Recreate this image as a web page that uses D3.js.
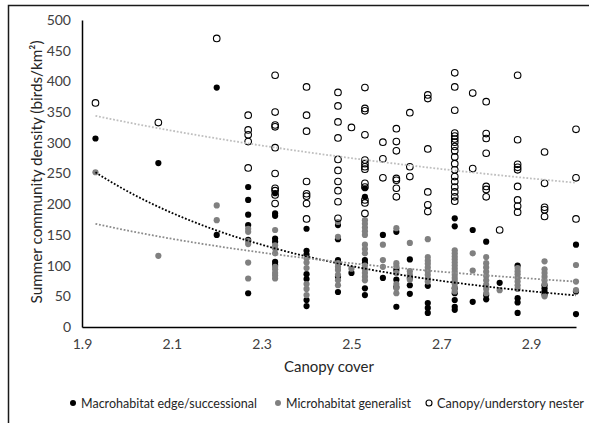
<!DOCTYPE html>
<html>
<head>
<meta charset="utf-8">
<script src="https://cdn.jsdelivr.net/npm/d3@7"></script>
<style>
  html, body { margin: 0; padding: 0; background: #fff; }
  svg { display: block; font-family: Lato, "Open Sans", sans-serif; }
</style>
</head>
<body>
<svg id="chart" width="589" height="423"></svg>
<script>
// Canopy cover levels (x) and summer densities (birds/km²) recorded at each level
const canopyLevels = [1.93, 2.07, 2.2, 2.27, 2.33, 2.4, 2.47, 2.5, 2.53, 2.57, 2.6, 2.63, 2.67, 2.73, 2.77, 2.8, 2.83, 2.87, 2.93, 3.0];

const macroEdge = [
  [307], [267], [390, 150], [228, 207, 183, 166, 142, 55],
  [218, 185, 181, 144, 139, 106, 101], [160, 124, 118, 86, 78, 44, 34],
  [166, 143, 109, 82, 57], [88], [226, 212, 109, 104, 63, 52], [150, 80],
  [155, 93, 77, 65, 33], [110, 80, 68, 54], [67, 39, 31, 23],
  [177, 164, 63, 55, 44, 33, 28], [158, 41], [139, 52, 45], [72],
  [100, 47, 40, 23], [68, 63, 58, 53], [134, 58, 21]
];

const microGeneralist = [
  [252], [116], [198, 174], [160, 155, 140, 135, 105, 79],
  [158, 133, 128, 120, 98, 94, 88, 84, 79], [112, 105, 96, 70, 62, 52],
  [171, 147, 104, 98, 93, 85, 76, 68], [95],
  [174, 168, 162, 156, 150, 134, 127, 120, 100, 94, 88, 82, 76], [134, 109, 98],
  [161, 104, 99, 88, 70, 63, 55], [137, 91, 85, 77],
  [143, 114, 108, 103, 97, 91, 85, 79, 74],
  [125, 120, 115, 110, 105, 100, 95, 90, 85, 80, 75, 70, 64, 58], [120, 92],
  [114, 104, 97, 90, 83, 76, 69, 62, 55], [60], [96, 91, 86, 80, 74, 68, 62],
  [107, 94, 88, 82, 76, 70, 50], [101, 74, 60]
];

const canopyNester = [
  [365], [333], [470], [345, 321, 313, 302, 259],
  [410, 350, 329, 326, 292, 250, 226, 222, 215, 201],
  [391, 345, 319, 237, 217, 213, 201, 176],
  [382, 360, 334, 308, 273, 255, 237, 222, 204, 177], [325],
  [390, 356, 352, 313, 272, 266, 261, 257, 234, 228, 207, 202, 185], [301, 274, 243],
  [323, 302, 287, 242, 239, 226, 212], [349, 261, 245],
  [378, 372, 290, 220, 199, 188],
  [414, 391, 353, 316, 311, 306, 301, 294, 287, 277, 266, 256, 245, 237, 228, 220, 212, 205],
  [381, 258], [367, 315, 307, 283, 229, 224, 212], [158],
  [410, 305, 265, 260, 256, 229, 207, 197, 187], [285, 234, 195, 191, 180],
  [322, 243, 176]
];

// Power trendlines y = a * x^b for each guild
const trendCoefA = [2687, 571, 607];
const trendCoefB = [-3.6, -1.86, -0.864];

const seriesNames = ["Macrohabitat edge/successional", "Microhabitat generalist", "Canopy/understory nester"];
const xTicks = [1.9, 2.1, 2.3, 2.5, 2.7, 2.9];
const yTicks = [0, 50, 100, 150, 200, 250, 300, 350, 400, 450, 500];

const svg = d3.select("#chart");

// chart frame
svg.append("rect")
  .attr("x", 8.5).attr("y", 5.5).attr("width", 700).attr("height", 600)
  .attr("fill", "none").attr("stroke", "#1a1a1a").attr("stroke-width", 1.5);

const x = d3.scaleLinear().domain([1.9, 3.0]).range([82, 576]);
const y = d3.scaleLinear().domain([0, 500]).range([327, 20]);

// axes
const yAxis = svg.append("g").attr("transform", "translate(82,0)")
  .call(d3.axisLeft(y).tickValues(yTicks).tickSize(0).tickSizeOuter(0).tickPadding(11));
const xAxis = svg.append("g").attr("transform", "translate(0,327)")
  .call(d3.axisBottom(x).tickValues(xTicks).tickFormat(d3.format(".1f")).tickSize(0).tickSizeOuter(0).tickPadding(12));
[yAxis, xAxis].forEach(g => {
  g.select(".domain").attr("stroke", "#000").attr("stroke-width", 1.5);
  g.selectAll("text").attr("font-size", 14).attr("fill", "#404040").attr("font-family", "Lato, sans-serif");
});

// axis titles
svg.append("text")
  .attr("transform", "translate(36,172) rotate(-90)")
  .attr("text-anchor", "middle").attr("dominant-baseline", "central")
  .attr("font-size", 14.5).attr("fill", "#262626")
  .attr("textLength", 263).attr("lengthAdjust", "spacingAndGlyphs")
  .text("Summer community density (birds/km²)");
svg.append("text")
  .attr("x", 329).attr("y", 372)
  .attr("text-anchor", "middle")
  .attr("font-size", 15).attr("fill", "#262626")
  .text("Canopy cover");

const flatten = groups => groups.flatMap((vals, i) => vals.map(v => ({ cx: canopyLevels[i], v })));

// markers
const plot = svg.append("g");
plot.selectAll("circle.macro").data(flatten(macroEdge)).join("circle")
  .attr("class", "macro")
  .attr("cx", d => x(d.cx)).attr("cy", d => y(d.v)).attr("r", 3.1)
  .attr("fill", "#000");
plot.selectAll("circle.micro").data(flatten(microGeneralist)).join("circle")
  .attr("class", "micro")
  .attr("cx", d => x(d.cx)).attr("cy", d => y(d.v)).attr("r", 3.1)
  .attr("fill", "#808080");
plot.selectAll("circle.canopy").data(flatten(canopyNester)).join("circle")
  .attr("class", "canopy")
  .attr("cx", d => x(d.cx)).attr("cy", d => y(d.v)).attr("r", 3.3)
  .attr("fill", "none").attr("stroke", "#000").attr("stroke-width", 1.1);

// trendlines over the observed canopy range
const trendColors = ["#000000", "#8c8c8c", "#bfbfbf"];
const xs = d3.range(0, 101).map(i => canopyLevels[0] + (canopyLevels[canopyLevels.length - 1] - canopyLevels[0]) * i / 100);
const line = d3.line().x(d => x(d[0])).y(d => y(d[1])).curve(d3.curveLinear);
trendCoefA.forEach((a, k) => {
  const pts = xs.map(xv => [xv, a * Math.pow(xv, trendCoefB[k])]);
  plot.append("path").attr("d", line(pts))
    .attr("fill", "none").attr("stroke", trendColors[k])
    .attr("stroke-width", 1.8).attr("stroke-dasharray", "1.8,1.8");
});

// legend
const legendX = [73, 278, 429];
const legendW = [176, 125, 147];
const legend = svg.append("g");
seriesNames.forEach((name, i) => {
  const g = legend.append("g").attr("transform", `translate(${legendX[i]},403)`);
  const c = g.append("circle").attr("cx", 0).attr("cy", 0).attr("r", 3);
  if (i === 0) c.attr("fill", "#000");
  else if (i === 1) c.attr("fill", "#808080");
  else c.attr("fill", "none").attr("stroke", "#000").attr("stroke-width", 1.1);
  g.append("text").attr("x", 8).attr("y", 0).attr("dominant-baseline", "central")
    .attr("font-size", 12.6).attr("fill", "#262626")
    .attr("textLength", legendW[i]).attr("lengthAdjust", "spacingAndGlyphs")
    .text(name);
});
</script>
</body>
</html>
